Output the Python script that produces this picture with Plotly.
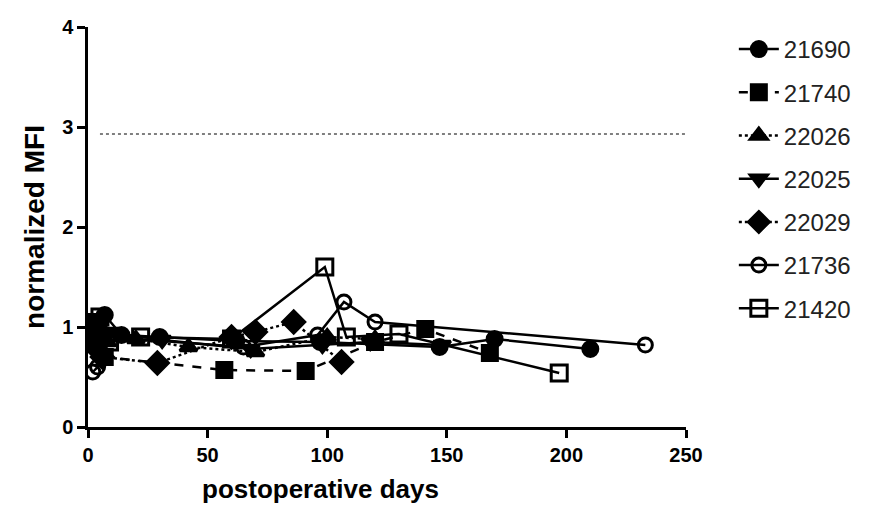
import plotly.graph_objects as go

series_names = ["21690", "21740", "22026", "22025", "22029", "21736", "21420"]

days_21690 = [1, 3, 5, 7, 14, 30, 62, 97, 147, 170, 210]
mfi_21690 = [0.95, 1.0, 1.05, 1.12, 0.92, 0.9, 0.86, 0.85, 0.8, 0.88, 0.78]

days_21740 = [1, 4, 7, 57, 91, 120, 141, 168]
mfi_21740 = [1.05, 0.9, 0.7, 0.57, 0.56, 0.85, 0.98, 0.74]

days_22026 = [2, 5, 8, 20, 42, 70, 100, 120]
mfi_22026 = [0.9, 1.0, 0.85, 0.88, 0.8, 0.75, 0.9, 0.88]

days_22025 = [2, 6, 9, 31, 68, 98, 118, 148]
mfi_22025 = [1.0, 0.85, 0.95, 0.87, 0.78, 0.82, 0.85, 0.82]

days_22029 = [3, 6, 29, 60, 70, 86, 106]
mfi_22029 = [0.8, 0.7, 0.64, 0.9, 0.95, 1.05, 0.65]

days_21736 = [2, 4, 8, 65, 96, 107, 120, 233]
mfi_21736 = [0.55, 0.6, 0.9, 0.8, 0.92, 1.25, 1.05, 0.82]

days_21420 = [1, 5, 9, 22, 60, 99, 108, 130, 197]
mfi_21420 = [0.9, 1.1, 0.85, 0.9, 0.88, 1.6, 0.9, 0.93, 0.54]

threshold = 2.93
threshold_days = [5, 251]

x_ticks = [0, 50, 100, 150, 200, 250]
y_ticks = [0, 1, 2, 3, 4]

data = [
    (days_21690, mfi_21690, "circle", "solid", 15),
    (days_21740, mfi_21740, "square", "dash", 15),
    (days_22026, mfi_22026, "triangle-up", "dot", 15),
    (days_22025, mfi_22025, "triangle-down", "solid", 15),
    (days_22029, mfi_22029, "diamond", "dot", 17),
    (days_21736, mfi_21736, "circle-open", "solid", 14),
    (days_21420, mfi_21420, "square-open", "solid", 16),
]

FONT = "Liberation Sans, Arial, sans-serif"

fig = go.Figure()
for name, (xs, ys, sym, dash, size) in zip(series_names, data):
    fig.add_trace(go.Scatter(
        x=xs, y=ys, name=name, mode="lines+markers", legendgroup=name,
        line=dict(color="black", width=2.5, dash=dash),
        marker=dict(symbol=sym, size=size, color="black",
                    line=dict(color="black", width=3)),
    ))

fig.add_trace(go.Scatter(
    x=threshold_days, y=[threshold, threshold], mode="lines",
    line=dict(color="black", width=1, dash="dot"), showlegend=False,
    hoverinfo="skip",
))

fig.add_annotation(text="<b>postoperative days</b>", xref="paper", yref="paper",
                   x=0.388, y=-0.155, xanchor="center", yanchor="middle",
                   showarrow=False, font=dict(family=FONT, size=26, color="black"))

fig.update_layout(
    width=890, height=522,
    margin=dict(l=80, r=212, t=19, b=103),
    paper_bgcolor="white", plot_bgcolor="white",
    font=dict(family=FONT, color="black"),
    showlegend=True,
    legend=dict(x=1.08, y=1.0, xanchor="left", yanchor="top",
                font=dict(family=FONT, size=24, color="#222"),
                tracegroupgap=9, itemwidth=40, bgcolor="rgba(0,0,0,0)",
                maxheight=1),
    xaxis=dict(range=[0, 250], tickvals=x_ticks,
               ticktext=["<b>%d</b>" % v for v in x_ticks],
               showline=True, linecolor="black", linewidth=2.5, ticks="outside",
               ticklen=8, tickwidth=2.5, tickcolor="black", showgrid=False, zeroline=False,
               automargin=False,
               tickfont=dict(family=FONT, size=20, color="black")),
    yaxis=dict(range=[0, 4], tickvals=y_ticks,
               ticktext=["<b>%d</b>" % v for v in y_ticks],
               showline=True, linecolor="black", linewidth=2.5, ticks="outside",
               ticklen=8, tickwidth=2.5, tickcolor="black", showgrid=False, zeroline=False,
               automargin=False,
               tickfont=dict(family=FONT, size=20, color="black"),
               title=dict(text="<b>normalized MFI</b>", font=dict(size=28, family=FONT), standoff=10)),
)

fig.write_html("out.html")
